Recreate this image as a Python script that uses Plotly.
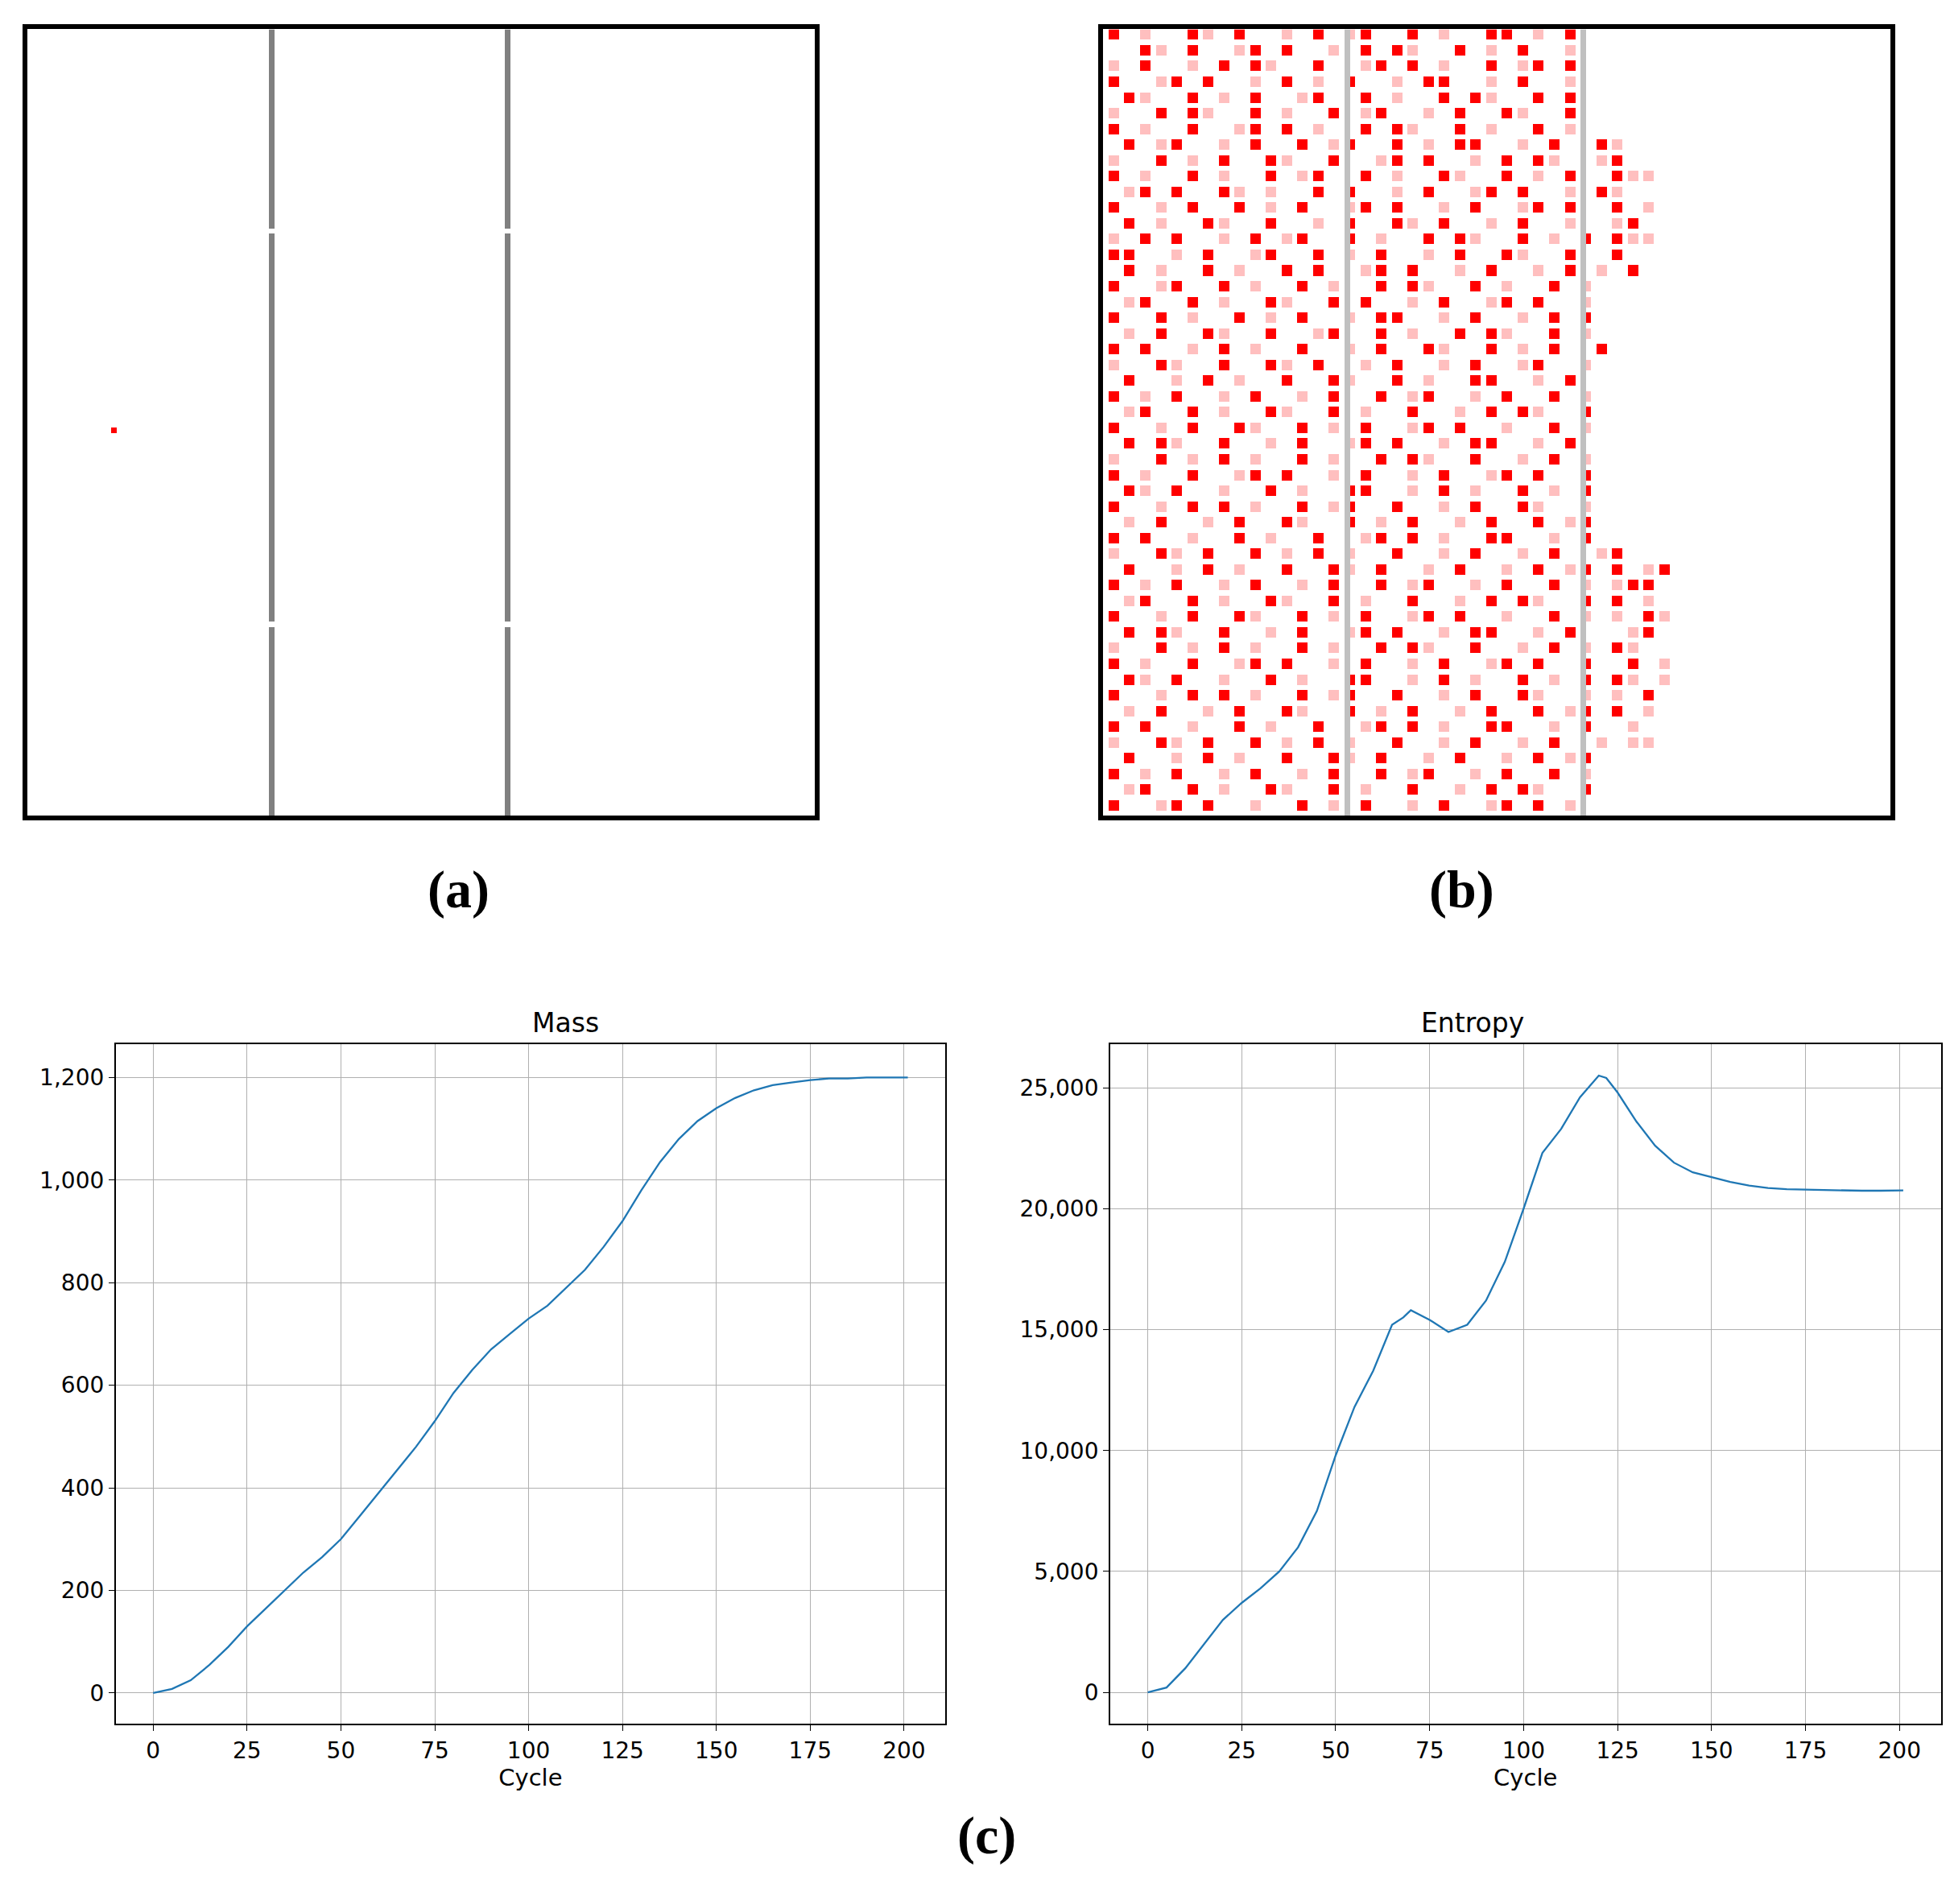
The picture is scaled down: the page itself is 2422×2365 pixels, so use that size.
import numpy as np
import plotly.graph_objects as go

# ---- data ----
N = 150
walls_cols = [46, 91]
wall_gaps_rows = [38, 113]
seed_cell = (76, 16)  # row, col

# panel (b): coarse map, one char = 3x3 cells; '.' empty, 'p' pink, 'r' red
b_rows = [
    "r.p..rp.r..p.r.pr..r.p..rr.p.r.",
    "..rp.r..pr.r..p.r.rp..r.p.r..p.",
    "p.r..p.r.rp..r..pr.r.p..r.pr.r.",
    "r..pr.r..p.r.p.r..p.rr..p.r..p.",
    ".rp..r.p.r..pr..r.p..r.rp..r.r.",
    "p..r.rp..r.p..r.pr..p.r..rp..r.",
    "r.p..r..pr.r.p..r.rp..r.p..r.p.",
    ".r.pr..p.r..r.pr..r.p.rr..p.r..rp...",
    "p..r.p.r..rp..r..pr.r..p.r.rp..pr...",
    "r.p..r.p..r.pr..r.p..rp..r.p.r..rpp.",
    ".pr.r..rp.p..r.r..p.r..pr.r..p.rp...",
    "r..p.r..r.p.r..pr.r..p.r..pr.r..r.p.",
    ".r.p..rp..r..p.r..rp.r..p.r..p..pr..",
    "p.r.r..p.r.pr..r.p..r.rp..r.p.r.rpp.",
    "rr..p.r..pr..r.p.r..p.r..rp..r..r...",
    ".r.p..r.p..r.r..pr.r..p.r..p.r.p.r..",
    "r..pr..r.p..r.p..r.rp..r.p..r.p.....",
    ".pr..r.p..rp..r.r..p.r..pr.r..p.",
    "r..r.p..r.p.r..p.rr..p.r..p.r.r.",
    ".p.r..rp..r..pr..r.p..r.rp..r.p.",
    "r.r..p.r.p..r..p.r..rp..r.p.r..r",
    "p..rp..r..rp.r..p.r..p.r..pr..p.",
    ".r..p.r.p..r..rp..r.p..rr..p.r..",
    "r.p.r..p.r..p.r..r.pr..p.r..r.p.",
    ".pr..r.p..rp..r.p..r..p.r.rp..r.",
    "r..p.r..rp..r.p.r..pr.r..p..r.p.",
    ".r.rp..r..p.r..pr.r..p.rr..p.r..",
    "p..r.p.r.p..r.p..r.rp..r..p.r.p.",
    "r.p..r..pr.r..p.r..p.r..pr.r..r.",
    ".rp.r..p..r.p..rr..p.r.p..r.p.r.",
    "r..p.r.r.p..r.pr..r..p.r..rp..p.",
    ".p.r..p.r..rp..r.p.r..p.r..r.pr.",
    "r.r..p..r.p..r..pr.r.p..rr..p.r.",
    "p..rp.r..r.p.r.p..r..p.r..p.r..pr...",
    ".r..p.r.p..r..rp.r..p.r..p.r.pr.r.pr",
    "r.p.r..p.r..p.r..r.pr..p.r..r.p.prr.",
    ".pr..r.p..rp..r.p..r..p.r.rp..r.r.p.",
    "r..p.r..rp..r.p.r..pr.r..p..r.p.p.rp",
    ".r.rp..r..p.r..pr.r..p.rr..p.r...pr.",
    "p..r.p.r.p..r.p..r.rp..r..p.r.p.rp..",
    "r.p..r..pr.r..p.r..p.r..pr.r..r..r.p",
    ".rp.r..p..r.p..rr..p.r.p..r.p.r.rp.p",
    "r..p.r.r.p..r.pr..r..p.r..rp..p.p.r.",
    ".p.r..p.r..rp..r.p.r..p.r..r.pr.r.p.",
    "r.r..p..r.p..r..pr.r.p..rr..p.r..p..",
    "p..rp.r..r.p.r.p..r..p.r..p.r..p.pp.",
    ".r..p.r.p..r..rp.r..p.r..p.r.pr.",
    "r.p.r..p.r..p.r..r.pr..p.r..r.p.",
    ".pr..r.p..rp..r.p..r..p.r.rp..r.",
    "r..pr.r..p..r.p.r..p.r..pr.r.p..",
]

cycles = [0, 5, 10, 15, 20, 25, 30, 35, 40, 45, 50, 55, 60, 65, 70, 75, 80, 85, 90, 95, 100,
          105, 110, 115, 120, 125, 130, 135, 140, 145, 150, 155, 160, 165, 170, 175, 180, 185, 190, 195, 201]
mass = [0, 8, 25, 55, 90, 130, 165, 200, 235, 265, 300, 345, 390, 435, 480, 530, 585, 630, 670, 700, 730,
        755, 790, 825, 870, 920, 980, 1035, 1080, 1115, 1140, 1160, 1175, 1185, 1190, 1195, 1198, 1198, 1200, 1200, 1200]
e_cycles = [0, 5, 10, 15, 20, 25, 30, 35, 40, 45, 50, 55, 60, 65, 68, 70, 75, 80, 85, 90, 95, 100, 105, 110, 115,
            120, 122, 125, 130, 135, 140, 145, 150, 155, 160, 165, 170, 175, 180, 185, 190, 195, 201]
entropy = [0, 200, 1000, 2000, 3000, 3700, 4300, 5000, 6000, 7500, 9800, 11800, 13300, 15200, 15500, 15800,
           15400, 14900, 15200, 16200, 17800, 20000, 22300, 23300, 24600, 25500, 25400, 24800, 23600, 22600,
           21900, 21500, 21300, 21100, 20950, 20850, 20800, 20780, 20760, 20750, 20740, 20740, 20750]

# ---- grids ----
za = np.zeros((N, N))
for c in walls_cols:
    za[:, c] = 3
    for g in wall_gaps_rows:
        za[g, c] = 0
za[seed_cell] = 2

code = {".": 0, "p": 1, "r": 2}
coarse = np.array([[code[ch] for ch in r.ljust(37, ".")[:37]] for r in b_rows])
zb_part = np.repeat(np.repeat(coarse, 3, axis=0), 3, axis=1)
# keep a 2x2 spot inside each 3x3 block, so the texture looks finer
rr, cc = np.indices(zb_part.shape)
zb_part[(rr % 3 == 2) | (cc % 3 == 2)] = 0
zb = np.zeros((N, N))
zb[:, 1:1 + zb_part.shape[1]] = zb_part[:N]
for c in walls_cols:
    zb[:, c] = 3

fig = go.Figure()
fig.add_trace(go.Heatmap(z=za, zmin=0, zmax=3, showscale=False, xaxis="x", yaxis="y",
                         colorscale=[[0, "white"], [0.25, "white"], [0.25, "#ffbfbf"], [0.5, "#ffbfbf"],
                                     [0.5, "red"], [0.75, "red"], [0.75, "#808080"], [1, "#808080"]]))
fig.add_trace(go.Heatmap(z=zb, zmin=0, zmax=3, showscale=False, xaxis="x2", yaxis="y2",
                         colorscale=[[0, "white"], [0.25, "white"], [0.25, "#ffbfbf"], [0.5, "#ffbfbf"],
                                     [0.5, "red"], [0.75, "red"], [0.75, "#c0c0c0"], [1, "#c0c0c0"]]))
fig.add_trace(go.Scatter(x=cycles, y=mass, mode="lines", line=dict(color="#1f77b4", width=2.3),
                         xaxis="x3", yaxis="y3"))
fig.add_trace(go.Scatter(x=e_cycles, y=entropy, mode="lines", line=dict(color="#1f77b4", width=2.3),
                         xaxis="x4", yaxis="y4"))

img_ax = dict(showticklabels=False, ticks="", showgrid=False, zeroline=False, showline=True,
              mirror=True, linecolor="black", linewidth=6, range=[-0.5, N - 0.5])
img_ay = dict(img_ax, autorange=False, range=[N - 0.5, -0.5])
ln_ax = dict(showgrid=True, gridcolor="#b0b0b0", zeroline=False, showline=True, mirror=True,
             linecolor="black", linewidth=1.5, ticks="outside", ticklen=7, tickcolor="black",
             tickfont=dict(size=28), tickformat=",")

fig.update_layout(
    width=2422, height=2365, showlegend=False,
    paper_bgcolor="white", plot_bgcolor="white",
    font=dict(family="DejaVu Sans", color="black"),
    margin=dict(l=0, r=0, t=0, b=0),
    xaxis=dict(img_ax, domain=[0.0108, 0.4145], anchor="y"),
    yaxis=dict(img_ay, domain=[0.575, 0.988], anchor="x"),
    xaxis2=dict(img_ax, domain=[0.5625, 0.966], anchor="y2"),
    yaxis2=dict(img_ay, domain=[0.575, 0.988], anchor="x2"),
    xaxis3=dict(ln_ax, domain=[0.056, 0.4815], range=[-10, 211], tick0=0, dtick=25,
                title=dict(text="Cycle", font=dict(size=29), standoff=6), anchor="y3"),
    yaxis3=dict(ln_ax, domain=[0.098, 0.455], range=[-60, 1265], dtick=200, anchor="x3"),
    xaxis4=dict(ln_ax, domain=[0.566, 0.992], range=[-10, 211], tick0=0, dtick=25,
                title=dict(text="Cycle", font=dict(size=29), standoff=6), anchor="y4"),
    yaxis4=dict(ln_ax, domain=[0.098, 0.455], range=[-1300, 26800], dtick=5000, anchor="x4"),
    annotations=[
        dict(text="Mass", x=0.2688, y=0.457, xref="paper", yref="paper", showarrow=False,
             yanchor="bottom", font=dict(size=33)),
        dict(text="Entropy", x=0.779, y=0.457, xref="paper", yref="paper", showarrow=False,
             yanchor="bottom", font=dict(size=33)),
        dict(text="<b>(a)</b>", x=0.215, y=0.536, xref="paper", yref="paper", showarrow=False,
             font=dict(size=66, family="Liberation Serif")),
        dict(text="<b>(b)</b>", x=0.764, y=0.536, xref="paper", yref="paper", showarrow=False,
             font=dict(size=66, family="Liberation Serif")),
        dict(text="<b>(c)</b>", x=0.5025, y=0.023, xref="paper", yref="paper", showarrow=False,
             font=dict(size=66, family="Liberation Serif")),
    ],
)

fig.write_html("out.html")
